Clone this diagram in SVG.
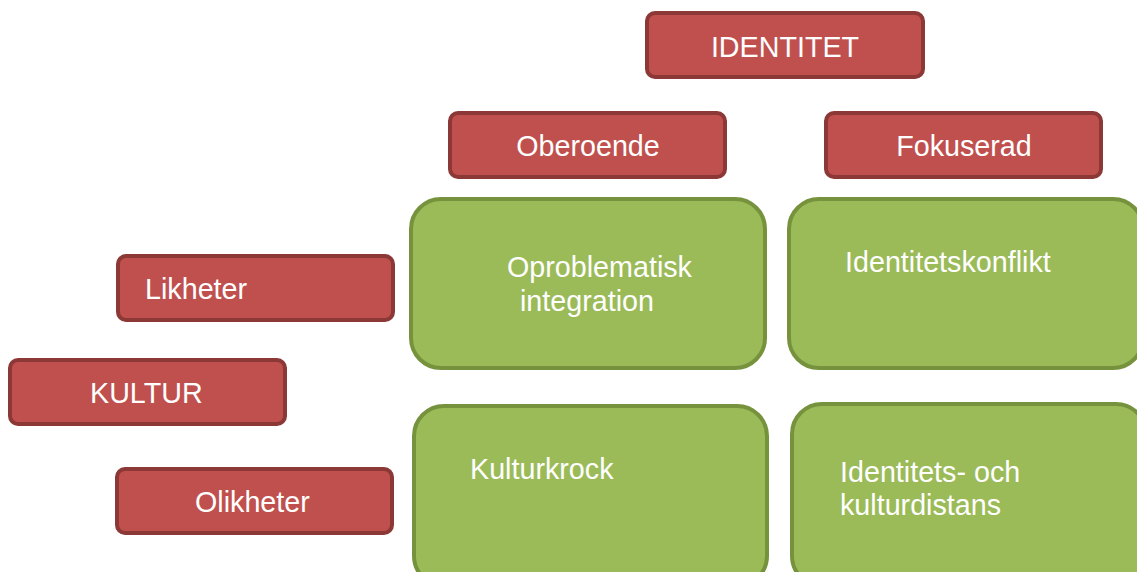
<svg xmlns="http://www.w3.org/2000/svg" width="1137" height="572" viewBox="0 0 1137 572">
<style>
.r{fill:#c0504d;stroke:#8c3836;stroke-width:4}
.g{fill:#9bbb59;stroke:#76923c;stroke-width:4}
text{font-family:"Liberation Sans",Arial,sans-serif;font-size:28.7px;fill:#ffffff}
.c{text-anchor:middle}
</style>
<rect width="1137" height="572" fill="#ffffff"/>
<g id="connectors"></g>
<g id="identitet"><rect class="r" x="647" y="13" width="276" height="64" rx="8"/><text class="c" x="785" y="57">IDENTITET</text></g>
<g id="oberoende"><rect class="r" x="450" y="113" width="275" height="64" rx="8"/><text class="c" x="588" y="156">Oberoende</text></g>
<g id="fokuserad"><rect class="r" x="826" y="113" width="275" height="64" rx="8"/><text class="c" x="964" y="156">Fokuserad</text></g>
<g id="likheter"><rect class="r" x="118" y="256" width="275" height="64" rx="8"/><text x="145" y="299">Likheter</text></g>
<g id="kultur"><rect class="r" x="10" y="360" width="275" height="64" rx="8"/><text x="90" y="403">KULTUR</text></g>
<g id="olikheter"><rect class="r" x="117" y="469" width="275" height="64" rx="8"/><text x="195" y="512">Olikheter</text></g>
<g id="oproblematisk"><rect class="g" x="411" y="199" width="354" height="169" rx="30"/><text x="507" y="277">Oproblematisk</text><text x="520" y="311">integration</text></g>
<g id="identitetskonflikt"><rect class="g" x="789" y="199" width="354" height="169" rx="30"/><text x="845" y="272">Identitetskonflikt</text></g>
<g id="kulturkrock"><rect class="g" x="414" y="406" width="353" height="180" rx="30"/><text x="470" y="479">Kulturkrock</text></g>
<g id="distans"><rect class="g" x="792" y="404" width="354" height="182" rx="30"/><text x="840" y="482">Identitets- och</text><text x="840" y="515">kulturdistans</text></g>
</svg>
